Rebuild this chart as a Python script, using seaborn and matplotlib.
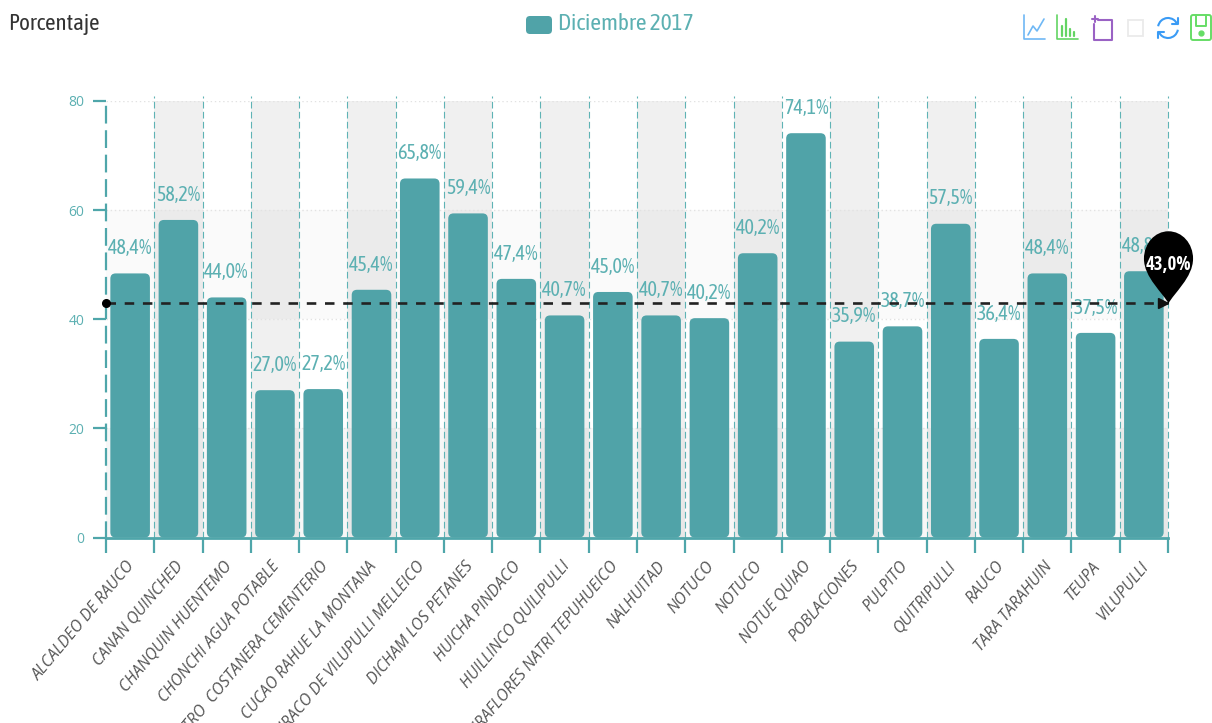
import numpy as np
import pandas as pd
import seaborn as sns
import matplotlib.pyplot as plt
from matplotlib.patches import FancyBboxPatch, Rectangle, Arc
from matplotlib.path import Path
from matplotlib.transforms import ScaledTranslation

# Data
categories = ["ALCALDEO DE RAUCO", "CANAN QUINCHED", "CHANQUIN HUENTEMO", "CHONCHI AGUA POTABLE",
              "CENTRO  COSTANERA CEMENTERIO", "CUCAO RAHUE LA MONTANA", "CURACO DE VILUPULLI MELLEICO",
              "DICHAM LOS PETANES", "HUICHA PINDACO", "HUILLINCO QUILIPULLI",
              "MIRAFLORES NATRI TEPUHUEICO", "NALHUITAD", "NOTUCO", "NOTUCO", "NOTUE QUIAO",
              "POBLACIONES", "PULPITO", "QUITRIPULLI", "RAUCO", "TARA TARAHUIN", "TEUPA", "VILUPULLI"]
values = [48.4, 58.2, 44.0, 27.0, 27.2, 45.4, 65.8, 59.4, 47.4, 40.7, 45.0,
          40.7, 40.2, 52.1, 74.1, 35.9, 38.7, 57.5, 36.4, 48.4, 37.5, 48.8]
value_labels = ["48,4%", "58,2%", "44,0%", "27,0%", "27,2%", "45,4%", "65,8%", "59,4%", "47,4%", "40,7%", "45,0%",
                "40,7%", "40,2%", "40,2%", "74,1%", "35,9%", "38,7%", "57,5%", "36,4%", "48,4%", "37,5%", "48,8%"]
y_ticks = [0, 20, 40, 60, 80]
mean_value = 43.0
mean_label = "43,0%"
series_name = "Diciembre 2017"
y_title = "Porcentaje"

BAR = "#50a3a8"
AXIS = "#4fa6aa"
TEXT = "#5cb0b2"

sns.set_theme(style="white")
plt.rcParams["font.family"] = ["Open Sans Condensed Light", "Asap Condensed", "Open Sans", "DejaVu Sans"]

fig = plt.figure(figsize=(12.12, 7.23), dpi=100)
ax = fig.add_axes([106 / 1212, 1 - 537.5 / 723, (1168 - 106) / 1212, (537.5 - 101) / 723])

df = pd.DataFrame({"pos": range(len(values)), "valor": values})
sns.barplot(data=df, x="pos", y="valor", color=BAR, saturation=1, width=0.82, ax=ax, zorder=3)

n = len(values)
ax.set_xlim(-0.5, n - 0.5)
ax.set_ylim(0, 80)
ax.set_xlabel("")
ax.set_ylabel("")

# value labels, from the bars before they get rounded
ax.bar_label(ax.containers[0], labels=value_labels, padding=11, fontsize=14.5, color=TEXT, zorder=5)

# rounded bars
aspect = (1062 / n) / (436.5 / 80)
for rect in ax.containers[0]:
    rect.set_visible(False)
    ax.add_patch(FancyBboxPatch((rect.get_x(), rect.get_y()), rect.get_width(), rect.get_height(),
                                boxstyle="round,pad=0,rounding_size=0.11", mutation_aspect=aspect,
                                fc=BAR, ec="none", zorder=3))

# split areas
for i in range(1, n, 2):
    ax.axvspan(i - 0.5, i + 0.5, fc="#f0f0f0", ec="none", zorder=0)
ax.axhspan(40, 60, fc="black", ec="none", alpha=0.02, zorder=0.5)
ax.axhspan(0, 20, fc="black", ec="none", alpha=0.03, zorder=0.5)

# grid lines
bounds = np.arange(n + 1) - 0.5
ax.hlines(y_ticks[1:], -0.5, n - 0.5, colors="#e2e2e2", linestyles=(0, (1, 2)), lw=1, zorder=1)
ax.vlines(bounds[1:], 0, 81, colors="#5fb3b5", linestyles=(0, (6, 3)), lw=0.8, zorder=1, clip_on=False)

# axes
sns.despine(ax=ax, top=True, right=True)
ax.spines["left"].set(color=AXIS, linewidth=1.6, linestyle=(0, (7, 4)))
ax.spines["bottom"].set(color=AXIS, linewidth=2)
ax.set_yticks(y_ticks)
ax.tick_params(axis="y", left=True, length=9.5, width=1.6, color=AXIS, pad=6, labelsize=10, labelcolor=TEXT)
for lab in ax.get_yticklabels():
    lab.set_family("Open Sans")
ax.set_xticks(bounds, labels=[])
ax.tick_params(axis="x", which="major", bottom=True, length=10.5, width=1.6, color=AXIS)
ax.set_xticks(range(n), labels=categories, minor=True)
ax.tick_params(axis="x", which="minor", bottom=False, length=0, pad=15)
shift = ScaledTranslation(-4 / 100, 0, fig.dpi_scale_trans)
for lab in ax.get_xticklabels(minor=True):
    lab.set(rotation=50, ha="right", va="top", rotation_mode="anchor", style="italic", fontsize=11.5,
            color="#555555", family="Open Sans")
    lab.set_transform(lab.get_transform() + shift)

# mean line with its pin
ax.plot([-0.5, n - 0.5], [mean_value, mean_value], color="#222222", lw=1.9, ls=(0, (3.6, 3.3)), zorder=6, clip_on=False)
ax.plot([-0.5], [mean_value], "o", color="black", ms=5.5, zorder=7, clip_on=False)
ax.plot([n - 0.6], [mean_value], ">", color="#111111", ms=7, zorder=7, clip_on=False)
pin = Path([(0, 0), (-0.07, 0.14), (-0.34, 0.36), (-0.34, 0.62),
            (-0.34, 0.83), (-0.19, 1), (0, 1), (0.19, 1), (0.34, 0.83), (0.34, 0.62),
            (0.34, 0.36), (0.07, 0.14), (0, 0), (0, 0)],
           [Path.MOVETO] + [Path.CURVE4] * 12 + [Path.CLOSEPOLY])
ax.plot([n - 0.5], [mean_value], marker=pin, ms=104, color="black", mew=0, zorder=8, clip_on=False)
ax.annotate(mean_label, (n - 0.5, mean_value), xytext=(0, 27), textcoords="offset points", ha="center", va="center",
            color="white", fontsize=13.5, family=["Open Sans Condensed", "Open Sans"], fontweight="bold", zorder=9,
            annotation_clip=False)

# overlay in pixels for header and toolbox
top = fig.add_axes([0, 0, 1, 1], zorder=10)
top.set_xlim(0, 1212)
top.set_ylim(723, 0)
top.axis("off")
top.text(8, 24, y_title, fontsize=16.5, color="#333333", va="center")
top.add_patch(FancyBboxPatch((526, 16), 26, 18, boxstyle="round,pad=0,rounding_size=4", fc=BAR, ec="none"))
top.text(558, 24, series_name, fontsize=16.8, color=TEXT, va="center")

def icon(xs, ys, color, lw=1.2):
    top.plot(xs, ys, color=color, lw=lw, solid_capstyle="round", solid_joinstyle="round")

# line tool
icon([1024, 1024, 1045], [15, 39, 39], "#6fb8f5")
icon([1028, 1033, 1037, 1044], [35, 26, 31, 19], "#6fb8f5")
# bar tool
icon([1057, 1057, 1078], [15, 39, 39], "#63d463")
for x, y in zip([1062, 1066, 1070, 1074], [26, 19, 29, 32]):
    icon([x, x], [y, 36], "#63d463", lw=1.6)
# crop tool
icon([1098, 1112, 1112, 1094, 1094], [20, 20, 40, 40, 24], "#9a62c4", lw=1.5)
icon([1092, 1098], [19, 19], "#9a62c4", lw=1.5)
icon([1095, 1095], [16, 22], "#9a62c4", lw=1.5)
# disabled restore tool
top.add_patch(Rectangle((1128, 20), 15, 16, fc="none", ec="#eaeaea", lw=1.3))
# refresh
top.add_patch(Arc((1168, 28), 20, 20, theta1=190, theta2=340, ec="#3a9bf5", lw=1.5))
top.add_patch(Arc((1168, 28), 20, 20, theta1=10, theta2=160, ec="#3a9bf5", lw=1.5))
icon([1172, 1178, 1178], [24, 24, 18], "#3a9bf5", lw=1.5)
icon([1158, 1158, 1164], [38, 32, 32], "#3a9bf5", lw=1.5)
# save
top.add_patch(FancyBboxPatch((1191, 15), 20, 25, boxstyle="round,pad=0,rounding_size=2", fc="none", ec="#66dd66", lw=1.4))
icon([1196, 1196, 1206, 1206], [15, 26, 26, 15], "#66dd66", lw=1.4)
top.plot([1201], [33], "o", color="#66dd66", ms=3.5)

fig.savefig("out.png", dpi=100)
